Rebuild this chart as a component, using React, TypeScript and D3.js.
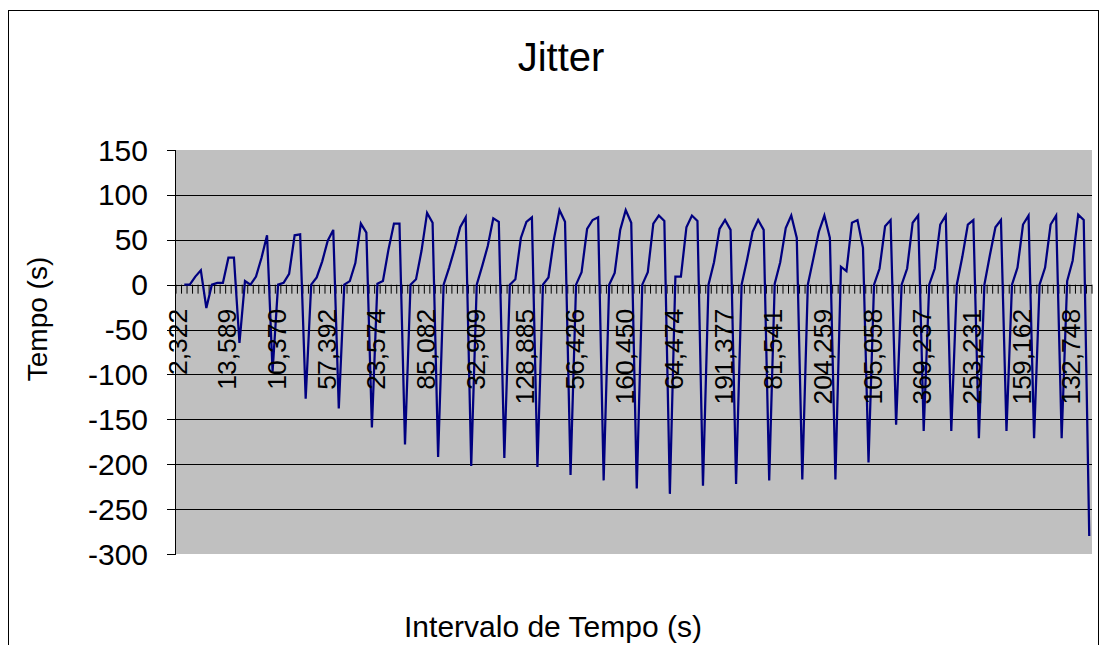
import React from "react";
import * as d3 from "d3";

const title = "Jitter";
const yAxisTitle = "Tempo (s)";
const xAxisTitle = "Intervalo de Tempo (s)";

// Jitter values (s), one per category; first category has no value
const jitterValues: (number | null)[] = [
  null,
  0, 0, 9, 16, -26,
  0, 2, 2, 30, 30, -65,
  4, 0, 9, 30, 55, -97,
  0, 2, 12, 55, 56, -127,
  0, 8, 26, 49, 61, -138,
  0, 4, 24, 68, 58, -159,
  1, 4, 39, 68, 68, -178,
  0, 6, 38, 80, 69, -192,
  0, 19, 40, 64, 75, -202,
  0, 21, 43, 74, 70, -193,
  0, 6, 52, 70, 75, -203,
  0, 8, 51, 83, 70, -212,
  0, 14, 62, 72, 75, -218,
  0, 13, 61, 83, 69, -227,
  0, 14, 68, 77, 71, -233,
  9, 9, 64, 77, 71, -224,
  0, 25, 62, 72, 61, -222,
  0, 28, 59, 72, 61, -218,
  1, 25, 63, 77, 52, -217,
  0, 29, 59, 77, 52, -217,
  20, 15, 69, 72, 41, -198,
  0, 18, 65, 72, -156,
  0, 18, 69, 77, -163,
  0, 18, 67, 77, -163,
  0, 31, 67, 72, -171,
  0, 33, 64, 72, -163,
  0, 19, 67, 77, -171,
  0, 19, 67, 77, -171,
  4, 27, 78, 72, -280,
];

// Category labels shown on the axis (every 9th category)
const categoryLabels: string[] = [
  "2,322", "13,589", "10,370", "57,392", "23,574", "85,082", "32,909",
  "128,885", "56,426", "160,450", "64,474", "191,377", "81,541", "204,259",
  "105,058", "369,237", "253,231", "159,162", "132,748",
];
const labelStep = 9;

const yTicks: number[] = [150, 100, 50, 0, -50, -100, -150, -200, -250, -300];

const FONT = "Arial, 'Liberation Sans', sans-serif";

export default function App() {
  const W = 1107;
  const H = 645;
  const left = 176;
  const right = 1092;
  const top = 150;
  const bottom = 554;
  const N = jitterValues.length;

  const x = d3
    .scaleBand<number>()
    .domain(d3.range(N))
    .range([left, right])
    .paddingInner(0)
    .paddingOuter(0);
  const bw = x.bandwidth();
  const cx = (i: number) => (x(i) as number) + bw / 2;

  const y = d3.scaleLinear().domain([-300, 150]).range([bottom, top]);

  const line = d3
    .line<number | null>()
    .defined((d) => d !== null)
    .x((_, i) => cx(i))
    .y((d) => y(d as number));

  const pathD = line(jitterValues) || "";
  const y0 = y(0);
  const tickXs = d3.range(N + 1).map((i) => (i < N ? (x(i) as number) : right));

  return (
    <svg
      width={W}
      height={H}
      style={{ position: "absolute", left: 0, top: 0, background: "#fff" }}
    >
      <rect x={8.5} y={10.5} width={1090} height={660} fill="#fff" stroke="#000" strokeWidth={1} />
      <text x={561} y={71} textAnchor="middle" fontFamily={FONT} fontSize={40} fill="#000">
        {title}
      </text>

      {/* plot area */}
      <rect x={left} y={top} width={right - left} height={bottom - top} fill="#C0C0C0" />

      {/* gridlines */}
      {yTicks
        .filter((t) => t !== 150 && t !== -300 && t !== 0)
        .map((t) => (
          <line
            key={"g" + t}
            x1={left}
            x2={right}
            y1={Math.round(y(t)) + 0.5}
            y2={Math.round(y(t)) + 0.5}
            stroke="#000"
            strokeWidth={1}
          />
        ))}

      {/* y axis */}
      <line x1={left - 0.5} x2={left - 0.5} y1={top} y2={bottom} stroke="#000" strokeWidth={1} />
      {yTicks.map((t) => (
        <g key={"yt" + t}>
          <line
            x1={left - 9}
            x2={left}
            y1={Math.round(y(t)) + 0.5}
            y2={Math.round(y(t)) + 0.5}
            stroke="#000"
            strokeWidth={1}
          />
          <text
            x={148}
            y={y(t)}
            dy="0.35em"
            textAnchor="end"
            fontFamily={FONT}
            fontSize={30}
            fill="#000"
          >
            {t}
          </text>
        </g>
      ))}

      {/* x axis at 0 */}
      <line x1={left} x2={right} y1={Math.round(y0) + 0.5} y2={Math.round(y0) + 0.5} stroke="#000" strokeWidth={1} />
      {tickXs.map((tx, i) => (
        <line
          key={"xt" + i}
          x1={tx}
          x2={tx}
          y1={y0}
          y2={y0 + 9}
          stroke="#000"
          strokeWidth={1}
        />
      ))}

      {/* series */}
      <path d={pathD} fill="none" stroke="#000080" strokeWidth={2.25} strokeLinejoin="miter" />

      {/* category labels */}
      {categoryLabels.map((lab, k) => {
        const i = k * labelStep;
        return (
          <text
            key={"cl" + k}
            transform={`translate(${cx(i) - 1.5},${y0 + 24}) rotate(-90)`}
            dy="0.35em"
            textAnchor="end"
            fontFamily={FONT}
            fontSize={26.5}
            fill="#000"
          >
            {lab}
          </text>
        );
      })}

      {/* axis titles */}
      <text
        transform={`translate(37,319) rotate(-90)`}
        dy="0.35em"
        textAnchor="middle"
        fontFamily={FONT}
        fontSize={28}
        fill="#000"
      >
        {yAxisTitle}
      </text>
      <text x={553} y={637} textAnchor="middle" fontFamily={FONT} fontSize={30} fill="#000">
        {xAxisTitle}
      </text>
    </svg>
  );
}
